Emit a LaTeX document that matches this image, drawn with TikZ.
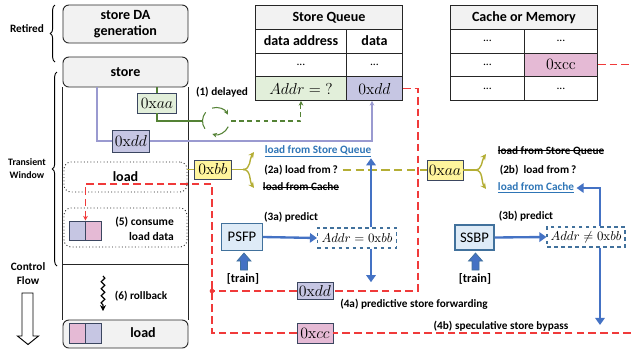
\RequirePackage{fix-cm}
\documentclass[tikz,border=0pt]{standalone}
\usepackage[no-math]{fontspec}
\setmainfont{Carlito}
\usetikzlibrary{arrows.meta,decorations.pathreplacing,decorations.pathmorphing,calc}

\definecolor{gfill}{HTML}{F2F2F2}
\definecolor{grnfill}{HTML}{E2EFDA}
\definecolor{grnline}{HTML}{548235}
\definecolor{purfill}{HTML}{C6C6E3}
\definecolor{purline}{HTML}{9A9AD0}
\definecolor{yelfill}{HTML}{FFF59D}
\definecolor{yelline}{HTML}{B4AE35}
\definecolor{pinkfill}{HTML}{E5BAD5}
\definecolor{redl}{HTML}{F03A3A}
\definecolor{bluel}{HTML}{4472C4}
\definecolor{bluet}{HTML}{2E75B6}
\definecolor{bluefill}{HTML}{DEEBF7}
\definecolor{blueb}{HTML}{41719C}
\definecolor{valb}{HTML}{3B4660}

\newcommand\fBig{\fontsize{12}{13.5}\selectfont\bfseries}
\newcommand\fLab{\fontsize{9.6}{11}\selectfont\bfseries}
\newcommand\fVal{\fontsize{13.5}{15}\selectfont}

\begin{document}
\begin{tikzpicture}[x=0.03cm,y=-0.03cm,
  colbox/.style={draw=black!85, line width=0.8pt, fill=gfill, rounded corners=5pt, minimum width=3.75cm, inner sep=0pt, font=\fBig, align=center},
  dotbox/.style={draw=black!85, line width=0.8pt, dotted, rounded corners=6pt, minimum width=3.69cm, inner sep=0pt, font=\fBig},
  cell/.style={draw=black!85, line width=0.8pt, minimum height=0.7125cm, inner sep=0pt, anchor=north west, font=\fBig},
  val/.style={draw=valb, line width=0.8pt, inner sep=0pt, font=\fVal},
  lab/.style={font=\fLab, inner sep=0pt},
  pred/.style={draw=blueb, fill=bluefill, line width=0.9pt, inner sep=0pt, font=\fontsize{12.5}{14}\selectfont},
  addrbox/.style={draw=blueb, dashed, line width=0.9pt, inner sep=0pt, font=\fontsize{11}{13}\selectfont},
  redd/.style={draw=redl, line width=1pt, dash pattern=on 6.5pt off 3.5pt},
  bar/.style={draw=bluel, line width=2pt, -{Triangle[length=6pt,width=8pt]}},
  grn/.style={draw=grnline, line width=0.9pt},
  pur/.style={draw=purline, line width=0.9pt},
  yel/.style={draw=yelline, line width=1.2pt},
  strike/.style={line width=0.7pt, black},
  smalltip/.style={-{Stealth[length=4pt,width=4pt]}}
]
\useasboundingbox (0,0) rectangle (631,350);

% ---------- left column ----------
\node[colbox, minimum height=1.14cm] (sda) at (125.5,24) {store DA\\generation};
\node[colbox, minimum height=0.9cm] (st) at (125.5,72) {store};
\node[colbox, minimum height=0.84cm] (lb) at (125.5,334) {};
\draw[line width=0.8pt, black!85] (st.south west) -- (lb.north west);
\draw[line width=0.8pt, black!85] (st.south east) -- (lb.north east);
\draw[line width=0.8pt, black!85] (63,264) -- (188,264);
\node[dotbox, minimum height=0.9cm] (ld) at (125.5,177) {load};
\node[dotbox, minimum height=1.17cm] (cs) at (125.5,227.5) {};
\node[val, fill=purfill, minimum width=0.48cm, minimum height=0.57cm] (cq1) at (77,230.5) {};
\node[val, fill=pinkfill, minimum width=0.48cm, minimum height=0.57cm] (cq2) at (93,230.5) {};
\node[lab, align=right, anchor=east, font=\fontsize{9.8}{12.5}\selectfont\bfseries] (cst) at (174,228.5) {(5) consume\\load data};
\node[val, fill=pinkfill, minimum width=0.48cm, minimum height=0.6cm] (lq1) at (77,333.5) {};
\node[val, fill=purfill, minimum width=0.48cm, minimum height=0.6cm] (lq2) at (93,333.5) {};
\node[font=\fBig, inner sep=0pt] (lbt) at (143,333) {load};
\coordinate (sq0) at (103,276);
\coordinate (sq1) at (103,311);
\draw[line width=1pt, decorate, decoration={snake, amplitude=1.6pt, segment length=6pt, post length=5pt}, -{Stealth[length=5pt,width=5pt]}] (sq0) -- (sq1);
\node[lab] (rb) at (141,296) {(6) rollback};

% side labels
\draw[line width=0.8pt, decorate, decoration={brace, amplitude=4pt}] (55,62) -- (55,5);
\draw[line width=0.8pt, decorate, decoration={brace, amplitude=4pt}] (57,266) -- (57,72);
\node[font=\fontsize{9.6}{11}\selectfont\bfseries, inner sep=0pt] (ret) at (27,29) {Retired};
\node[font=\fontsize{8.4}{11}\selectfont\bfseries, align=center, inner sep=0pt] (tw) at (27,169) {Transient\\Window};
\node[font=\fontsize{9.6}{12}\selectfont\bfseries, align=center, inner sep=0pt] (cf) at (28,274) {Control\\Flow};
\draw[line width=0.8pt, fill=white] (22,293) -- (33,293) -- (33,336) -- (38.5,336) -- (28,344.5) -- (17.5,336) -- (22,336) -- cycle;

% ---------- Store Queue table ----------
\node[cell, fill=gfill, minimum width=4.41cm] (sqt) at (255,5) {Store Queue};
\node[cell, minimum width=2.73cm] (sqh1) at (255,28.75) {data address};
\node[cell, minimum width=1.68cm] (sqh2) at (346,28.75) {data};
\node[cell, minimum width=2.73cm, font=\normalfont] (sqe1) at (255,52.5) {...};
\node[cell, minimum width=1.68cm, font=\normalfont] (sqe2) at (346,52.5) {...};
\node[cell, minimum width=2.73cm, fill=grnfill, font=\fVal] (addrq) at (255,76.25) {$Addr = {?}$};
\node[cell, minimum width=1.68cm, fill=purfill, font=\fVal] (sqdd) at (346,76.25) {$0\mathrm{x}dd$};

% ---------- Cache table ----------
\node[cell, fill=gfill, minimum width=4.41cm] (cmt) at (450,5) {Cache or Memory};
\node[cell, minimum width=2.22cm, font=\normalfont] (cm11) at (450,28.75) {...};
\node[cell, minimum width=2.19cm, font=\normalfont] (cm12) at (524,28.75) {...};
\node[cell, minimum width=2.22cm, font=\normalfont] (cm21) at (450,52.5) {...};
\node[cell, minimum width=2.19cm, fill=pinkfill, font=\fVal] (ccc) at (524,52.5) {$0\mathrm{xcc}$};
\node[cell, minimum width=2.22cm, font=\normalfont] (cm31) at (450,76.25) {...};
\node[cell, minimum width=2.19cm, font=\normalfont] (cm32) at (524,76.25) {...};

% ---------- value boxes ----------
\node[val, fill=grnfill, minimum width=1.17cm, minimum height=0.6cm] (vaa) at (157,103) {$0\mathrm{x}aa$};
\node[val, fill=purfill, minimum width=1.11cm, minimum height=0.66cm] (vdd) at (131,141) {$0\mathrm{x}dd$};
\node[val, fill=yelfill, minimum width=1.11cm, minimum height=0.57cm] (vbb) at (213,169.5) {$0\mathrm{x}bb$};
\node[val, fill=yelfill, minimum width=1.08cm, minimum height=0.6cm] (vaa2) at (445,170) {$0\mathrm{x}aa$};
\node[val, fill=purfill, minimum width=1.08cm, minimum height=0.5cm] (vdd2) at (315,291) {$0\mathrm{x}dd$};
\node[val, fill=pinkfill, minimum width=1.08cm, minimum height=0.6cm] (vcc) at (315,333) {$0\mathrm{x}cc$};

% ---------- predictors ----------
\node[pred, minimum width=1.23cm, minimum height=0.81cm] (psfp) at (242,237) {PSFP};
\node[pred, minimum width=1.17cm, minimum height=0.75cm] (ssbp) at (474.5,237.5) {SSBP};
\node[addrbox, minimum width=2.37cm, minimum height=0.6cm] (addrA) at (357,238) {$Addr = 0\mathrm{x}bb$};
\node[addrbox, minimum width=2.34cm, minimum height=0.6cm] (addrB) at (586,237) {$Addr \neq 0\mathrm{x}bb$};
\draw[draw=blueb, fill=bluel, line width=0.6pt] (240.5,270) -- (240.5,261) -- (237,261) -- (244,253) -- (251,261) -- (247.5,261) -- (247.5,270) -- cycle;
\draw[draw=blueb, fill=bluel, line width=0.6pt] (472,270) -- (472,261) -- (468.5,261) -- (475.5,253) -- (482.5,261) -- (479,261) -- (479,270) -- cycle;
\node[font=\fontsize{10.5}{12}\selectfont\bfseries, inner sep=0pt] (tr1) at (243,279) {[train]};
\node[font=\fontsize{10.5}{12}\selectfont\bfseries, inner sep=0pt] (tr2) at (475,279) {[train]};

% ---------- labels ----------
\node[lab] (t1) at (222,92) {(1) delayed};
\node[lab, text=bluet] (u2a) at (318,151) {\underline{load from Store Queue}};
\node[lab] (t2a) at (301,170) {(2a) load from\,?};
\node[lab] (s2a) at (301,187) {load from Cache};
\draw[strike] ([yshift=3pt]s2a.base west) -- ([yshift=3pt]s2a.base east);
\node[lab] (s2b) at (551,151) {load from Store Queue};
\draw[strike] ([yshift=3pt]s2b.base west) -- ([yshift=3pt]s2b.base east);
\node[lab] (t2b) at (538,170) {(2b)\ \ load from\,?};
\node[lab, text=bluet] (c2b) at (536,188) {\underline{load from Cache}};
\node[lab] (t3a) at (291,217) {(3a) predict};
\node[lab] (t3b) at (526,216) {(3b) predict};
\node[lab] (t4a) at (414,304) {(4a) predictive store forwarding};
\node[lab] (t4b) at (501,326) {(4b) speculative store bypass};

% ---------- green: address generation delayed ----------
\coordinate (cc) at (216,121);
\draw[grn] (st.south -| vaa) -- (vaa.north);
\draw[grn] (vaa.south) |- ($(cc)+(-13.5,0)$);
\draw[grn] (cc) ++(-140:13.5) arc[start angle=-140, end angle=-215, radius=13.5];
\draw[grn, smalltip] (cc) ++(-107:13.5) arc[start angle=-107, end angle=-28, radius=13.5];
\draw[grn, smalltip] (cc) ++(25:13.5) arc[start angle=25, end angle=106, radius=13.5];
\draw[grn, dash pattern=on 4pt off 3pt, smalltip] ($(cc)+(15,0)$) -| (addrq.south);

% ---------- purple: data ----------
\coordinate (p97) at (97,0);
\draw[pur] (st.south -| p97) |- (vdd.west);
\coordinate (p372) at (372,0);
\draw[pur, smalltip] (vdd.east) -| (sqdd.south -| p372);

% ---------- yellow: load address ----------
\draw[yel] (ld.east |- vbb.west) -- (vbb.west);
\coordinate (fa) at (243,169.5);
\coordinate (fa1) at (254,152);
\coordinate (fa2) at (254,188);
\draw[yel] (vbb.east) -- (fa);
\draw[yel, -{Stealth[length=5pt,width=5pt]}] (fa) to[out=0, in=-125] (fa1);
\draw[yel, -{Stealth[length=5pt,width=5pt]}] (fa) to[out=0, in=125] (fa2);
\draw[yel, dash pattern=on 7pt off 4pt] ([xshift=4pt]t2a.east) -- (vaa2.west);
\coordinate (fb) at (475,170);
\coordinate (fb1) at (486,154);
\coordinate (fb2) at (486,189);
\draw[yel] (vaa2.east) -- (fb);
\draw[yel, -{Stealth[length=5pt,width=5pt]}] (fb) to[out=0, in=-125] (fb1);
\draw[yel, -{Stealth[length=5pt,width=5pt]}] (fb) to[out=0, in=125] (fb2);

% ---------- blue: prediction ----------
\draw[bar] (psfp.east) -- (addrA.west);
\draw[bar] (ssbp.east) -- (addrB.west);
\coordinate (bx) at (371,0);
\draw[bar] (addrA.north -| bx) -- ([yshift=-1pt]u2a.south -| bx);
\draw[bar] (addrA.south -| bx) -- (vdd2.north -| bx);
\coordinate (bx2) at (600,0);
\coordinate (bend) at (600,325);
\draw[bar] (addrB.north -| bx2) |- ([xshift=2pt]c2b.east);
\draw[bar] (addrB.south -| bx2) -- (bend);

% ---------- red: forwarded / bypassed data ----------
\coordinate (r1) at (418,0);
\coordinate (rx) at (212,0);
\coordinate (redge) at (631,0);
\coordinate (rt) at (212,184);
\draw[redd] (sqdd.east) -| (r1 |- vdd2.east) -- (vdd2.east);
\draw[redd] (vdd2.west) -- (rx |- vdd2.west);
\fill[redl] (rx |- vdd2.west) circle (2pt);
\draw[redd] (ccc.east) -- (ccc.east -| redge);
\draw[redd] (vcc.east -| redge) -- (vcc.east);
\draw[redd, -{Stealth[length=4pt,width=4pt]}] (vcc.west) -| (rt) -| (cq1.north east);
\end{tikzpicture}
\end{document}
